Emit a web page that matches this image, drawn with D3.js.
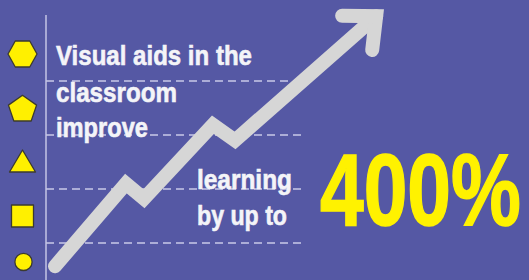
<!DOCTYPE html>
<html>
<head>
<meta charset="utf-8">
<script src="https://cdn.jsdelivr.net/npm/d3@7"></script>
<style>
  html, body { margin: 0; padding: 0; background: #5558a4; overflow: hidden; }
  svg { display: block; }
</style>
</head>
<body>
<svg id="chart" width="529" height="280"></svg>
<script>
// ---- data ----
const shapeNames = ["hexagon", "pentagon", "triangle", "square", "circle"];
const shapeLevels = [4.5, 3.5, 2.5, 1.5, 0.65];
const gridLevels = [1, 2, 3, 4];
const lineX = [2.65, 23.5, 28.8, 49.1, 55.6, 97.1];
const lineY = [0.57, 2.10, 1.82, 3.19, 2.90, 5.20];
const headlineLines = ["Visual aids in the", "classroom", "improve"];
const subLines = ["learning", "by up to"];
const bigValue = "400%";

// ---- setup ----
const W = 529, H = 280;
const svg = d3.select("#chart");
const bg = "#5558a4";
svg.append("rect").attr("width", W).attr("height", H).attr("fill", bg);

const x = d3.scaleLinear().domain([0, 100]).range([46, 386]);
const y = d3.scaleLinear().domain([0, 5]).range([297, 27]);

// dashed grid
const gridEnd = 303;
svg.append("g").selectAll("line").data(gridLevels).join("line")
  .attr("x1", x(0)).attr("x2", gridEnd)
  .attr("y1", d => y(d)).attr("y2", d => y(d))
  .attr("stroke", "#c9c9e8").attr("stroke-width", 1.4)
  .attr("stroke-dasharray", "8,5");

// vertical axis line
svg.append("line")
  .attr("x1", x(0)).attr("x2", x(0))
  .attr("y1", y(5.22)).attr("y2", H)
  .attr("stroke", "#c4c4e6").attr("stroke-width", 1.5);

// text block (white)
const fontFam = "'Liberation Sans',Arial,sans-serif";
const textColor = "#f4f4f8";
const headLens = [196, 121, 92];
const headBase = [65, 102, 137];
svg.append("g").selectAll("text").data(headlineLines).join("text")
  .attr("x", 56).attr("y", (d, i) => headBase[i])
  .attr("textLength", (d, i) => headLens[i])
  .attr("lengthAdjust", "spacingAndGlyphs")
  .attr("font-family", fontFam).attr("font-weight", "bold")
  .attr("font-size", 28).attr("fill", textColor)
  .attr("stroke", textColor).attr("stroke-width", 0.6)
  .text(d => d);

const subLens = [95, 90];
const subBase = [189, 225];
svg.append("g").selectAll("text").data(subLines).join("text")
  .attr("x", 197).attr("y", (d, i) => subBase[i])
  .attr("textLength", (d, i) => subLens[i])
  .attr("lengthAdjust", "spacingAndGlyphs")
  .attr("font-family", fontFam).attr("font-weight", "bold")
  .attr("font-size", 28).attr("fill", textColor)
  .attr("stroke", textColor).attr("stroke-width", 0.6)
  .text(d => d);

// big value (horizontally condensed via transform)
svg.append("text")
  .attr("transform", "translate(320,225) scale(0.77,1)")
  .attr("x", 0).attr("y", 0)
  .attr("font-family", fontFam).attr("font-weight", "bold")
  .attr("font-size", 102).attr("fill", "#fff200")
  .attr("stroke", "#fff200").attr("stroke-width", 1.5)
  .text(bigValue);

// rising line
const pts = lineX.map((v, i) => [x(v), y(lineY[i])]);
const lineGen = d3.line();
const lineColor = "#d6d6d6";
svg.append("path")
  .attr("d", lineGen(pts))
  .attr("fill", "none").attr("stroke", lineColor)
  .attr("stroke-width", 14).attr("stroke-linecap", "round")
  .attr("stroke-linejoin", "miter").attr("stroke-miterlimit", 10);

// arrow head computed from final segment
const tip = pts[pts.length - 1], prev = pts[pts.length - 2];
const back = Math.atan2(prev[1] - tip[1], prev[0] - tip[0]);
const armLen = 34, spread = 42 * Math.PI / 180;
const armA = [tip[0] + armLen * Math.cos(back + spread), tip[1] + armLen * Math.sin(back + spread)];
const armB = [tip[0] + armLen * Math.cos(back - spread), tip[1] + armLen * Math.sin(back - spread)];
svg.append("path")
  .attr("d", lineGen([armA, tip, armB]))
  .attr("fill", "none").attr("stroke", lineColor)
  .attr("stroke-width", 14).attr("stroke-linecap", "round")
  .attr("stroke-linejoin", "miter").attr("stroke-miterlimit", 10);

// legend-like shapes
const cx = 22.5;
function polygon(n, rx, ry, rot) {
  const v = [];
  for (let k = 0; k < n; k++) {
    const a = rot + k * 2 * Math.PI / n;
    v.push([rx * Math.cos(a), ry * Math.sin(a)]);
  }
  return "M" + v.map(p => p.join(",")).join("L") + "Z";
}
const shapePaths = {
  hexagon: polygon(6, 14.5, 15, 0),
  pentagon: polygon(5, 14.8, 14.2, -Math.PI / 2),
  triangle: "M0,-12L13,10L-13,10Z",
  square: "M-11,-11H11V11H-11Z",
  circle: d3.arc()({innerRadius: 0, outerRadius: 8.6, startAngle: 0, endAngle: 2 * Math.PI})
};
svg.append("g").selectAll("path").data(shapeNames).join("path")
  .attr("transform", (d, i) => `translate(${cx + (d === "circle" ? 1 : 0)},${y(shapeLevels[i]) + (d === "pentagon" ? 1.5 : 0)})`)
  .attr("d", d => shapePaths[d])
  .attr("fill", "#fff000").attr("stroke", "#3b3a30").attr("stroke-width", 1.3)
  .attr("stroke-linejoin", "round");
</script>
</body>
</html>
